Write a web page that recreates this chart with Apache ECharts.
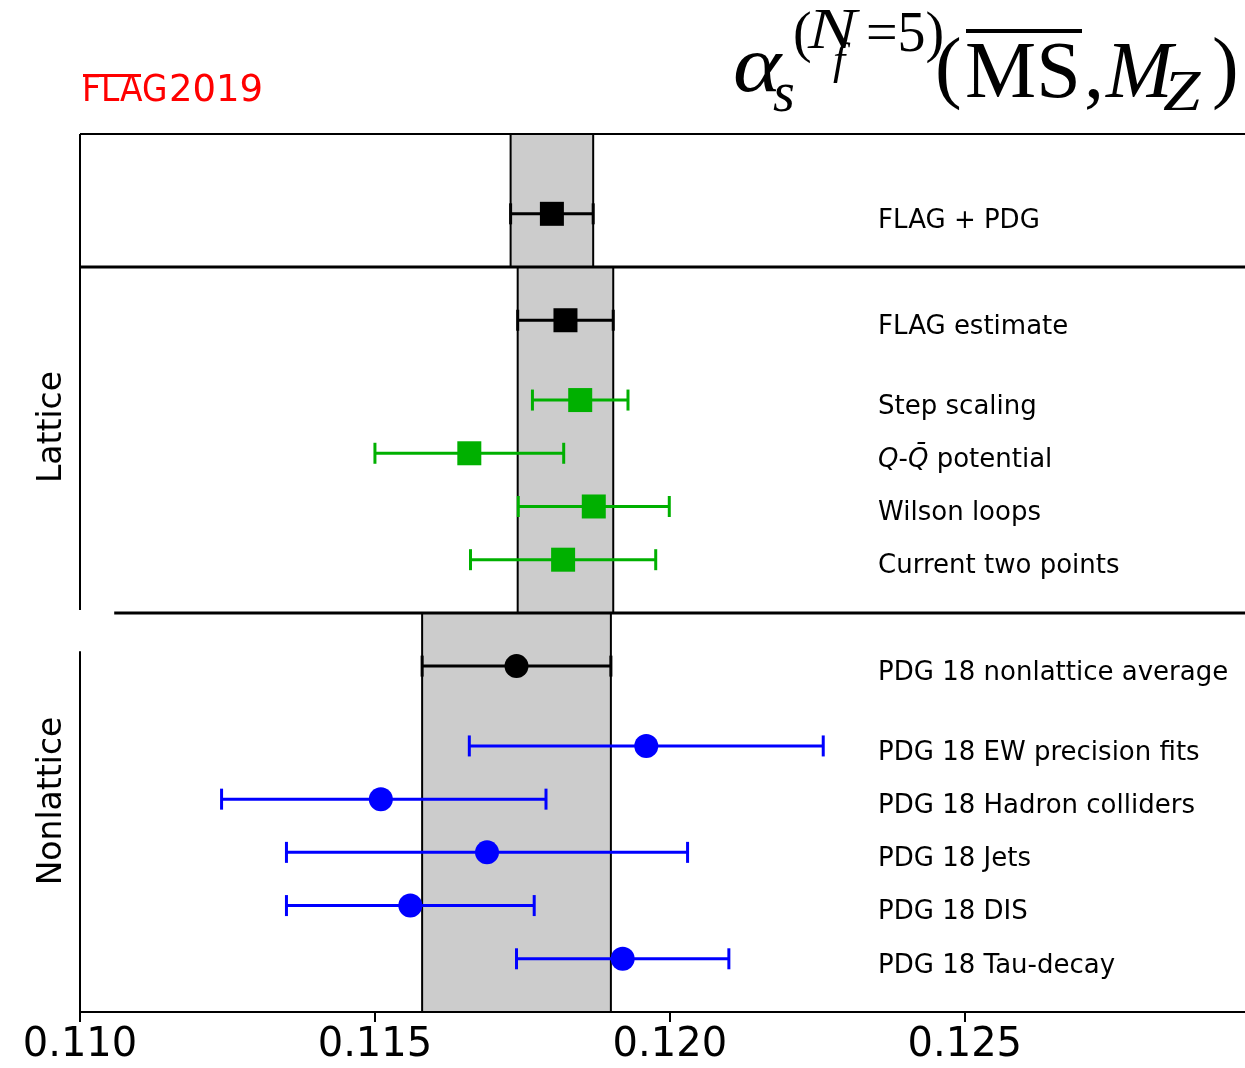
<!DOCTYPE html>
<html>
<head>
<meta charset="utf-8">
<script src="https://cdn.jsdelivr.net/npm/echarts@6/dist/echarts.min.js"></script>
<style>
  html, body { margin: 0; padding: 0; background: #fff; }
  #chart-container { width: 1245px; height: 1068px; }
</style>
</head>
<body>
<div id="chart-container"></div>
<script>
// rows, top to bottom
var names = [
  'FLAG + PDG', 'FLAG estimate', 'Step scaling', '{i|Q}-{i|Q\u0304} potential',
  'Wilson loops', 'Current two points', 'PDG 18 nonlattice average',
  'PDG 18 EW precision fits', 'PDG 18 Hadron colliders', 'PDG 18 Jets',
  'PDG 18 DIS', 'PDG 18 Tau-decay'
];
var central = [0.1180, 0.11823, 0.11848, 0.11660, 0.11871, 0.11819, 0.1174, 0.1196, 0.1151, 0.1169, 0.1156, 0.1192];
var errLow  = [0.0007, 0.00081, 0.00081, 0.00160, 0.00128, 0.00157, 0.0016, 0.0030, 0.0027, 0.0034, 0.0021, 0.0018];
var errHigh = [0.0007, 0.00081, 0.00081, 0.00160, 0.00128, 0.00157, 0.0016, 0.0030, 0.0028, 0.0034, 0.0021, 0.0018];
var rowY    = [15, 13, 11.5, 10.5, 9.5, 8.5, 6.5, 5, 4, 3, 2, 1];
var group   = ['avg', 'avg', 'lat', 'lat', 'lat', 'lat', 'avg', 'non', 'non', 'non', 'non', 'non'];
var marker  = ['rect', 'rect', 'rect', 'rect', 'rect', 'rect', 'circle', 'circle', 'circle', 'circle', 'circle', 'circle'];

// grey bands come from these rows, spanning these sections
var bandRows = [0, 1, 6];
var sectionBottom = [14, 7.5, 0];
var sectionTop = [16.5, 14, 7.5];

var xTicks = [0.110, 0.115, 0.120, 0.125];
var xMin = 0.110, xMax = 0.12975, yMax = 16.5;
var labelX = 0.12353;

var colors = { avg: '#000000', lat: '#00b000', non: '#0000ff' };

var dom = document.getElementById('chart-container');
var myChart = echarts.init(dom, null, { renderer: 'canvas' });

var bandData = bandRows.map(function (r, i) {
  return [central[r] - errLow[r], central[r] + errHigh[r], sectionBottom[i], sectionTop[i]];
});
var barData = central.map(function (c, i) {
  return [c, c - errLow[i], c + errHigh[i], rowY[i]];
});
var pointData = central.map(function (c, i) {
  return {
    value: [c, rowY[i]],
    symbol: marker[i],
    itemStyle: { color: colors[group[i]], opacity: 1 }
  };
});
var labelData = names.map(function (n, i) {
  return { name: n, value: [labelX, rowY[i]] };
});

function seg(api, a, b, w) {
  var p = api.coord(a), q = api.coord(b);
  return { type: 'line', shape: { x1: p[0], y1: p[1], x2: q[0], y2: q[1] },
           style: { stroke: '#000', lineWidth: w } };
}

// title pieces
function t(x, base, str, size, italic, family, color, sx) {
  return {
    type: 'text', x: x, y: base - 0.3 * size, scaleX: sx || 1,
    style: {
      text: str, fill: color || '#000', align: 'left', verticalAlign: 'middle',
      font: (italic ? 'italic ' : '') + size + 'px ' + (family || '"Liberation Serif", serif')
    }
  };
}

var sans = '"DejaVu Sans", sans-serif';

var option = {
  animation: false,
  grid: { left: 80, right: 0, top: 134, bottom: 56 },
  xAxis: {
    type: 'value', min: xMin, max: xMax, interval: 0.005,
    splitLine: { show: false },
    axisLine: { lineStyle: { color: '#000', width: 2 } },
    axisTick: { customValues: xTicks, length: 10, lineStyle: { color: '#000', width: 2 } },
    axisLabel: {
      customValues: xTicks, margin: 14, color: '#000', fontSize: 40, fontFamily: sans,
      formatter: function (v) { return v.toFixed(3); }
    }
  },
  yAxis: { type: 'value', min: 0, max: yMax, show: false },
  graphic: [
    // FLAG2019 logo
    {
      type: 'text', x: 82, y: 91, scaleX: 0.89,
      style: { text: 'FLAG', fill: '#ff0000', font: '37px ' + sans, align: 'left', verticalAlign: 'middle' }
    },
    { type: 'rect', shape: { x: 83, y: 74, width: 58, height: 3 }, style: { fill: '#ff0000' } },
    t(169, 102, '2019', 37, false, sans, '#ff0000'),
    // section names
    {
      type: 'text', x: 52, y: 427, rotation: Math.PI / 2,
      style: { text: 'Lattice', fill: '#000', font: '33px ' + sans, align: 'center', verticalAlign: 'middle' }
    },
    {
      type: 'text', x: 52, y: 801, rotation: Math.PI / 2,
      style: { text: 'Nonlattice', fill: '#000', font: '33px ' + sans, align: 'center', verticalAlign: 'middle' }
    },
    // alpha_s^(Nf=5)(MS-bar, M_Z)
    t(733, 94, '\u03b1', 80, true, null, null, 1.15),
    t(773, 113, 's', 56, true),
    t(793, 53, '(', 56, false),
    t(808, 50, 'N', 56, true, null, null, 1.3),
    t(833, 76, 'f', 44, true),
    t(866, 53, '=5)', 56, false),
    t(935, 96, '(', 80, false),
    t(965, 100, 'MS', 80, false),
    { type: 'rect', shape: { x: 966, y: 29, width: 116, height: 4 }, style: { fill: '#000' } },
    t(1084, 100, ',', 80, false),
    t(1106, 100, 'M', 80, true, null, null, 1.0),
    t(1163, 112, 'Z', 56, true, null, null, 1.2),
    t(1212, 96, ')', 80, false)
  ],
  series: [
    {
      type: 'custom', name: 'bands', z: 1, data: bandData,
      renderItem: function (params, api) {
        var p = api.coord([api.value(0), api.value(3)]);
        var q = api.coord([api.value(1), api.value(2)]);
        return {
          type: 'rect',
          shape: { x: p[0], y: p[1], width: q[0] - p[0], height: q[1] - p[1] },
          style: { fill: '#cccccc', stroke: '#000', lineWidth: 2 }
        };
      }
    },
    {
      type: 'custom', name: 'frame', z: 2, data: [[0]],
      renderItem: function (params, api) {
        return {
          type: 'group', children: [
            seg(api, [xMin, yMax], [xMax, yMax], 2),
            seg(api, [xMin, yMax], [xMin, 7.555], 2),
            seg(api, [xMin, 6.78], [xMin, 0], 2),
            seg(api, [xMin, 14], [xMax, 14], 3),
            seg(api, [0.11058, 7.5], [xMax, 7.5], 3)
          ]
        };
      }
    },
    {
      type: 'custom', name: 'errors', z: 3, data: barData,
      renderItem: function (params, api) {
        var y = api.value(3);
        var lo = api.coord([api.value(1), y]);
        var hi = api.coord([api.value(2), y]);
        var c = colors[group[params.dataIndex]];
        var cap = 10.5;
        var st = { stroke: c, lineWidth: 3 };
        return {
          type: 'group', children: [
            { type: 'line', shape: { x1: lo[0], y1: lo[1], x2: hi[0], y2: hi[1] }, style: st },
            { type: 'line', shape: { x1: lo[0], y1: lo[1] - cap, x2: lo[0], y2: lo[1] + cap }, style: st },
            { type: 'line', shape: { x1: hi[0], y1: hi[1] - cap, x2: hi[0], y2: hi[1] + cap }, style: st }
          ]
        };
      }
    },
    {
      type: 'scatter', name: 'points', z: 4, symbolSize: 24, data: pointData
    },
    {
      type: 'scatter', name: 'labels', z: 5, symbolSize: 0, data: labelData,
      itemStyle: { opacity: 1 },
      label: {
        show: true, position: [0, 0], align: 'left', verticalAlign: 'middle', offset: [0, 7],
        color: '#000', fontSize: 26, fontFamily: sans,
        formatter: function (p) { return p.name; },
        rich: { i: { fontStyle: 'italic', fontSize: 26, fontFamily: sans, color: '#000' } }
      }
    }
  ]
};

if (option && typeof option === 'object') {
  myChart.setOption(option);
}

window.addEventListener('resize', myChart.resize);
</script>
</body>
</html>
